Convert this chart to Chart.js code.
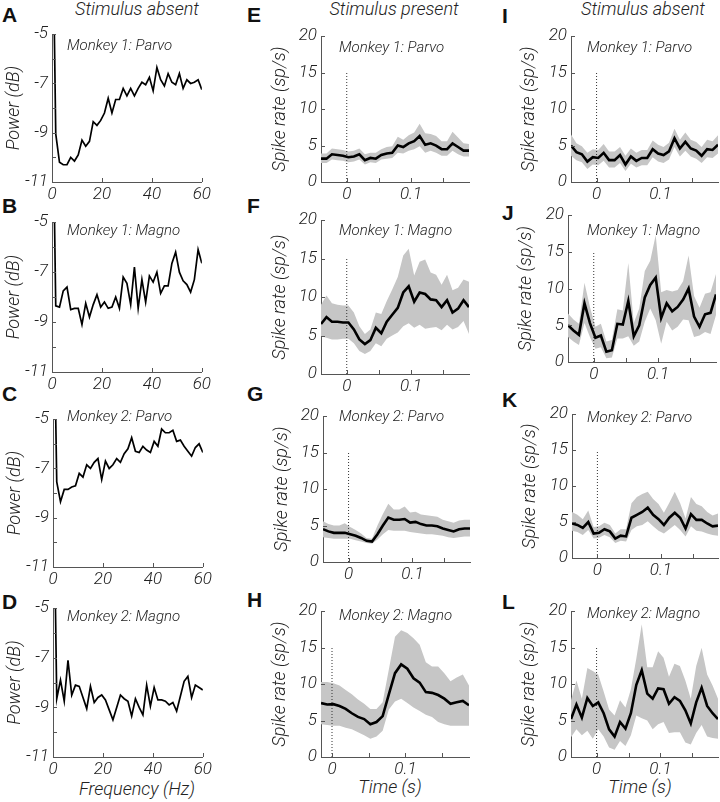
<!DOCTYPE html>
<html>
<head>
<meta charset="utf-8">
<script src="https://cdn.jsdelivr.net/npm/chart.js@4.4.1/dist/chart.umd.min.js"></script>
<style>
  body { margin: 0; background: #fff; }
  #fig { position: relative; width: 720px; height: 802px; overflow: hidden;
         font-family: Roboto, 'Liberation Sans', sans-serif; color: #222; }
  #fig canvas { position: absolute; }
  .letter { position: absolute; font-family: 'Liberation Sans', Arial, sans-serif; font-weight: bold;
            font-size: 21px; line-height: 1; color: #111; }
  .colTitle { position: absolute; top: 0; font-style: italic; font-weight: 300; font-size: 18px;
              line-height: 18px; transform: translateX(-50%); white-space: nowrap; }
  .sub { position: absolute; font-style: italic; font-weight: 300; font-size: 15px; line-height: 18px;
         white-space: nowrap; z-index: 2; }
  .xTitle { position: absolute; font-style: italic; font-weight: 300; font-size: 18px; line-height: 20px;
            transform: translateX(-50%); white-space: nowrap; }
</style>
</head>
<body>
<div id="fig">
  <div class="colTitle" style="left:137px">Stimulus absent</div>
  <div class="colTitle" style="left:394px">Stimulus present</div>
  <div class="colTitle" style="left:643px">Stimulus absent</div>

  <div class="letter" style="left:2px;top:4px">A</div>
  <div class="letter" style="left:2px;top:195px">B</div>
  <div class="letter" style="left:2px;top:383px">C</div>
  <div class="letter" style="left:2px;top:591px">D</div>
  <div class="letter" style="left:247px;top:4px">E</div>
  <div class="letter" style="left:247px;top:195px">F</div>
  <div class="letter" style="left:247px;top:383px">G</div>
  <div class="letter" style="left:247px;top:589px">H</div>
  <div class="letter" style="left:502px;top:5px">I</div>
  <div class="letter" style="left:502px;top:202px">J</div>
  <div class="letter" style="left:502px;top:389px">K</div>
  <div class="letter" style="left:502px;top:591px">L</div>

  <div class="sub" style="left:67px;top:36px">Monkey 1: Parvo</div>
  <div class="sub" style="left:67px;top:221px">Monkey 1: Magno</div>
  <div class="sub" style="left:67px;top:407px">Monkey 2: Parvo</div>
  <div class="sub" style="left:67px;top:607px">Monkey 2: Magno</div>
  <div class="sub" style="left:339px;top:38px">Monkey 1: Parvo</div>
  <div class="sub" style="left:339px;top:221px">Monkey 1: Magno</div>
  <div class="sub" style="left:339px;top:407px">Monkey 2: Parvo</div>
  <div class="sub" style="left:339px;top:606px">Monkey 2: Magno</div>
  <div class="sub" style="left:587px;top:38px">Monkey 1: Parvo</div>
  <div class="sub" style="left:587px;top:221px">Monkey 1: Magno</div>
  <div class="sub" style="left:587px;top:408px">Monkey 2: Parvo</div>
  <div class="sub" style="left:587px;top:604px">Monkey 2: Magno</div>

  <div class="xTitle" style="left:137px;top:779px">Frequency (Hz)</div>
  <div class="xTitle" style="left:390px;top:777px">Time (s)</div>
  <div class="xTitle" style="left:640px;top:777px">Time (s)</div>
</div>

<script>
// spectra, stimulus absent (dB)
const freqs = [0,1.5,3,4.5,6,7.5,9,10.5,12,13.5,15,16.5,18,19.5,21,22.5,24,25.5,27,28.5,30,
  31.5,33,34.5,36,37.5,39,40.5,42,43.5,45,46.5,48,49.5,51,52.5,54,55.5,57,58.5,60];
const powerM1Parvo = [2,-9.05,-10.2,-10.3,-10.3,-10.0,-10.15,-9.9,-9.3,-9.55,-9.35,-8.55,-8.7,-8.5,-8.2,
  -7.6,-8.2,-7.65,-7.65,-7.2,-7.5,-7.2,-7.5,-7.2,-6.95,-7.05,-6.75,-7.3,-6.35,-6.85,-7.1,-6.6,-6.95,-7.05,
  -6.6,-7.2,-6.85,-7.0,-6.95,-6.85,-7.25];
const powerM1Magno = [2,-8.35,-8.4,-7.75,-7.6,-8.5,-8.45,-8.45,-9.1,-8.25,-8.8,-8.3,-7.9,-8.4,-8.2,-8.45,
  -8.4,-8.0,-8.45,-7.2,-7.45,-8.3,-6.8,-8.45,-7.3,-8.2,-7.15,-7.4,-7.0,-7.85,-7.55,-7.55,-6.65,-6.2,-7.0,
  -7.35,-7.5,-7.8,-7.3,-6.1,-6.65];
const powerM2Parvo = [2,-7.55,-8.35,-7.85,-7.85,-7.75,-7.7,-7.2,-7.35,-6.85,-7.0,-6.75,-6.6,-7.45,-6.7,
  -7.0,-6.85,-6.6,-6.75,-6.4,-6.2,-5.75,-6.3,-6.35,-6.1,-6.25,-6.35,-5.9,-6.1,-5.4,-5.55,-5.55,-5.45,-5.9,
  -5.85,-6.1,-6.3,-6.5,-6.15,-6.0,-6.35];
const powerM2Magno = [2,-8.65,-7.9,-8.75,-7.1,-8.5,-8.1,-8.15,-8.6,-9.05,-8.15,-8.8,-8.6,-8.5,-8.7,-9.1,
  -9.5,-9.0,-8.5,-8.65,-8.75,-9.35,-8.65,-9.0,-9.3,-8.1,-8.95,-8.2,-8.7,-8.7,-8.75,-8.9,-8.8,-9.15,-8.55,
  -7.95,-7.75,-8.6,-8.1,-8.2,-8.3];

// spike rates (sp/s): mean, upper and lower edge of the shaded band
const times = [-0.040,-0.0315,-0.023,-0.0144,-0.0059,0.0026,0.0111,0.0196,0.0282,0.0367,0.0452,0.0537,
  0.0622,0.0707,0.0793,0.0878,0.0963,0.1048,0.1133,0.1219,0.1304,0.1389,0.1474,0.1559,0.1644,0.1730,0.1815,0.190];
const timesH = [-0.015,-0.0066,0.0018,0.0102,0.0186,0.027,0.0354,0.0438,0.0522,0.0606,0.069,0.0774,
  0.0858,0.0942,0.1026,0.111,0.1194,0.1278,0.1362,0.1446,0.153,0.1614,0.1698,0.1782,0.1866];

const presM1ParvoMean = [3.2,3.2,3.8,3.7,3.6,3.4,3.5,3.8,3.0,3.3,3.2,3.7,3.9,4.0,5.0,4.8,5.3,5.6,6.3,5.1,5.3,5.0,4.5,4.5,5.3,4.8,4.3,4.3];
const presM1ParvoHi   = [3.9,3.9,4.6,4.5,4.4,4.2,4.3,4.6,3.8,4.0,4.0,4.5,4.8,4.9,6.2,5.8,6.4,6.8,8.0,6.7,6.6,6.3,5.6,5.6,6.9,6.1,5.3,5.2];
const presM1ParvoLo   = [2.6,2.6,3.1,3.0,2.9,2.7,2.8,3.1,2.4,2.7,2.6,3.1,3.2,3.3,4.0,3.9,4.3,4.5,4.9,4.0,4.3,4.0,3.6,3.6,4.3,3.8,3.5,3.5];

const presM1MagnoMean = [6.5,7.4,6.8,6.8,6.7,6.7,5.8,4.5,3.9,4.4,6.0,5.3,6.8,7.7,8.6,10.6,11.4,9.4,10.6,10.4,9.7,9.6,8.7,9.6,8.0,8.5,9.6,8.7];
const presM1MagnoHi   = [9.0,10.2,9.2,9.0,8.9,8.9,8.0,6.2,5.2,5.8,8.0,7.8,9.5,11.0,12.6,15.4,16.3,12.8,14.6,14.9,13.2,12.9,11.6,12.9,10.9,11.2,12.3,12.0];
const presM1MagnoLo   = [4.9,4.7,4.5,4.5,4.6,4.6,4.0,3.0,2.6,3.0,4.0,3.6,4.6,5.0,5.4,6.2,6.6,6.0,6.4,5.9,6.0,6.1,5.7,6.4,5.8,6.1,6.9,5.2];

const presM2ParvoMean = [4.5,4.2,4.0,4.0,4.0,3.8,3.6,3.3,2.9,2.8,3.8,5.0,6.1,5.8,5.8,5.9,5.4,5.5,5.2,5.0,5.0,4.9,4.6,4.4,4.2,4.5,4.6,4.6];
const presM2ParvoHi   = [5.6,5.2,5.0,5.0,5.3,4.8,4.4,3.9,3.3,3.2,5.0,6.6,8.0,7.2,7.2,7.6,6.8,6.9,6.5,6.4,6.3,6.2,5.8,5.6,5.4,5.7,5.8,5.8];
const presM2ParvoLo   = [3.4,3.3,3.2,3.2,3.2,3.2,3.0,2.8,2.6,2.5,3.1,3.8,4.4,4.3,4.3,4.3,4.1,4.0,3.9,3.8,3.8,3.7,3.6,3.4,3.3,3.4,3.5,3.5];

const presM2MagnoMean = [7.4,7.2,7.25,7.0,6.6,6.0,5.5,5.2,4.5,4.8,5.6,8.6,11.5,12.7,12.1,10.8,10.2,8.9,8.8,8.5,8.0,7.3,7.5,7.7,7.1];
const presM2MagnoHi   = [10.3,10.3,10.1,9.8,9.2,8.6,7.9,7.3,6.6,6.6,7.5,12.0,16.5,17.4,17.0,16.3,15.4,13.0,12.4,12.4,11.5,10.4,10.9,11.3,9.8];
const presM2MagnoLo   = [4.5,4.4,4.3,4.3,4.0,3.8,3.4,3.0,2.5,2.8,3.6,6.5,7.6,8.0,7.4,6.8,6.3,5.8,5.5,4.8,4.5,4.3,4.3,4.3,4.3];

const absM1ParvoMean = [5.0,4.1,3.8,2.8,3.4,3.3,4.0,3.0,3.0,3.7,2.4,3.5,2.9,3.3,3.3,4.5,3.9,3.7,4.2,6.0,4.6,5.5,4.6,4.3,3.6,4.5,4.4,5.1];
const absM1ParvoHi   = [6.5,5.3,4.9,4.0,4.5,4.4,5.2,4.2,4.2,4.8,3.6,4.6,4.0,4.4,4.4,5.7,5.1,4.8,5.4,7.3,5.8,6.8,5.8,5.5,4.8,5.8,5.6,6.4];
const absM1ParvoLo   = [3.6,3.0,2.7,1.8,2.4,2.3,2.9,2.0,2.0,2.6,1.5,2.5,2.0,2.3,2.3,3.4,2.8,2.6,3.1,4.8,3.5,4.3,3.5,3.2,2.6,3.4,3.3,3.9];

const absM1MagnoMean = [5.0,4.3,3.7,8.0,5.3,3.3,3.6,1.4,1.6,5.2,5.1,8.3,3.5,5.0,8.8,10.5,11.5,6.0,8.0,6.9,7.5,8.5,10.0,6.2,4.8,6.5,6.7,9.2];
const absM1MagnoHi   = [6.6,5.8,5.2,10.8,7.5,4.8,5.2,2.8,3.0,7.2,7.0,13.5,5.3,7.3,12.4,13.8,17.3,9.5,9.8,9.6,9.8,11.0,14.5,9.0,7.4,9.3,9.5,12.0];
const absM1MagnoLo   = [3.4,2.8,2.3,5.3,3.4,1.8,2.0,0.5,0.6,3.2,3.2,3.5,2.2,2.8,5.5,7.3,5.7,2.5,5.5,4.3,4.8,5.8,5.7,3.4,3.6,4.1,3.8,6.4];

const absM2ParvoMean = [4.8,4.6,4.2,5.0,3.4,3.5,4.0,3.7,2.7,3.1,3.0,5.6,6.0,6.4,7.0,6.0,5.4,4.6,5.6,6.3,5.6,4.1,6.1,5.3,5.3,4.8,4.4,4.5];
const absM2ParvoHi   = [6.4,6.0,5.4,6.6,4.3,4.4,4.9,4.6,3.4,4.0,4.0,7.6,8.5,8.9,9.2,8.2,7.5,6.3,7.7,9.2,7.6,5.5,8.5,7.5,7.2,6.4,5.9,6.2];
const absM2ParvoLo   = [3.8,3.6,3.2,3.9,2.7,2.8,3.2,2.9,2.1,2.4,2.3,3.9,4.4,4.6,5.1,4.4,3.8,3.4,4.0,4.6,3.9,3.0,4.4,3.8,3.7,3.4,3.2,3.1];

const absM2MagnoMean = [5.2,7.2,5.4,8.1,7.0,7.5,6.0,3.8,2.8,4.8,3.9,6.0,9.9,11.9,8.7,8.0,9.4,9.3,7.3,8.2,7.7,6.4,4.6,7.5,9.5,7.0,6.0,5.2];
const absM2MagnoHi   = [7.8,10.5,8.0,12.2,11.8,11.3,9.0,6.5,5.7,7.8,6.8,9.3,13.5,18.2,12.3,12.3,14.5,13.6,11.0,12.8,12.5,10.5,8.0,12.5,15.0,11.3,9.8,8.0];
const absM2MagnoLo   = [2.7,3.8,3.0,3.6,2.5,3.8,2.8,1.3,1.0,2.2,1.5,3.0,5.7,5.3,5.0,3.8,4.5,4.8,3.3,3.4,3.4,2.0,1.7,3.3,4.4,2.8,2.6,2.5];

// stimulus onset marker
const onsetX = [0, 0];
const onsetY = [0, 15];

// tick labels and tick marks
const freqLabels = [0, 20, 40, 60];
const freqMarks = [0, 20, 40, 60];
const powerLabels = [-5, -7, -9, -11];
const powerMarks = [-5, -6, -7, -8, -9, -10, -11];
const timeLabels = [0, 0.1];
const timeMarks = [0, 0.05, 0.1, 0.15];
const rateLabels = [0, 5, 10, 15, 20];
const rateMarks = [0, 5, 10, 15, 20];

const fig = document.getElementById('fig');
const FAMILY = "Roboto, 'Liberation Sans', sans-serif";
const tickFont = { family: FAMILY, size: 17, style: 'italic', weight: 300 };
const titleFont = { family: FAMILY, size: 18, style: 'italic', weight: 300 };
const AXIS = '#555';

const cols = [{ wy: 50, pt: 2 }, { wy: 51, pt: 0 }, { wy: 52, pt: 0 }];

const panels = [
  { c: 0, area: [52, 32, 202, 182], y: powerM1Parvo },
  { c: 0, area: [52, 220, 202, 372], y: powerM1Magno },
  { c: 0, area: [53, 417, 203, 567], y: powerM2Parvo },
  { c: 0, area: [53, 606, 203, 757], y: powerM2Magno },
  { c: 1, area: [321, 34, 469, 182], t: times, m: presM1ParvoMean, hi: presM1ParvoHi, lo: presM1ParvoLo, xr: [-0.04, 0.19] },
  { c: 1, area: [321, 218, 469, 374], t: times, m: presM1MagnoMean, hi: presM1MagnoHi, lo: presM1MagnoLo, xr: [-0.04, 0.19] },
  { c: 1, area: [323, 414, 470, 562], t: times, m: presM2ParvoMean, hi: presM2ParvoHi, lo: presM2ParvoLo, xr: [-0.04, 0.19] },
  { c: 1, area: [321, 609, 469, 757], t: timesH, m: presM2MagnoMean, hi: presM2MagnoHi, lo: presM2MagnoLo, xr: [-0.015, 0.1866] },
  { c: 2, area: [571, 34, 718, 182], t: times, m: absM1ParvoMean, hi: absM1ParvoHi, lo: absM1ParvoLo, xr: [-0.04, 0.19] },
  { c: 2, area: [568, 213, 716, 362], t: times, m: absM1MagnoMean, hi: absM1MagnoHi, lo: absM1MagnoLo, xr: [-0.04, 0.19] },
  { c: 2, area: [572, 412, 718, 558], t: times, m: absM2ParvoMean, hi: absM2ParvoHi, lo: absM2ParvoLo, xr: [-0.04, 0.19] },
  { c: 2, area: [571, 609, 718, 757], t: times, m: absM2MagnoMean, hi: absM2MagnoHi, lo: absM2MagnoLo, xr: [-0.04, 0.19] }
];

// matlab style tick marks pointing into the plot
const inwardTicks = {
  id: 'inwardTicks',
  afterDatasetsDraw(chart, args, opts) {
    const { ctx, chartArea: a, scales } = chart;
    ctx.save();
    ctx.strokeStyle = AXIS;
    ctx.lineWidth = 1;
    ctx.beginPath();
    opts.xs.forEach(v => {
      const px = Math.round(scales.x.getPixelForValue(v)) + 0.5;
      ctx.moveTo(px, a.bottom);
      ctx.lineTo(px, a.bottom - 4);
    });
    opts.ys.forEach(v => {
      const py = Math.round(scales.y.getPixelForValue(v)) + 0.5;
      ctx.moveTo(a.left, py);
      ctx.lineTo(a.left + 4, py);
    });
    ctx.stroke();
    ctx.restore();
  }
};

const xy = (xs, ys) => xs.map((x, i) => ({ x, y: ys[i] }));

function addPanel(p) {
  const { wy, pt } = cols[p.c];
  const padTop = 12, padRight = 12, hx = 30;
  const [l, t, r, b] = p.area;
  const cv = document.createElement('canvas');
  cv.width = r - l + wy + padRight;
  cv.height = b - t + padTop + hx;
  cv.style.left = (l - wy) + 'px';
  cv.style.top = (t - padTop) + 'px';
  fig.appendChild(cv);

  const isPower = !p.t;
  let datasets;
  if (isPower) {
    datasets = [{ data: xy(freqs, p.y), borderColor: '#000', borderWidth: 1.7, pointRadius: 0, fill: false }];
  } else {
    datasets = [
      { data: xy(p.t, p.m), borderColor: '#000', borderWidth: 2.6, pointRadius: 0, fill: false, order: 0 },
      { data: xy(onsetX, onsetY), borderColor: '#333', borderWidth: 1, borderDash: [1, 2],
        pointRadius: 0, fill: false, order: 1 },
      { data: xy(p.t, p.hi), borderColor: 'rgba(0,0,0,0)', borderWidth: 0, pointRadius: 0,
        backgroundColor: '#c6c6c6', fill: '+1', order: 2 },
      { data: xy(p.t, p.lo), borderColor: 'rgba(0,0,0,0)', borderWidth: 0, pointRadius: 0, fill: false, order: 3 }
    ];
  }

  const xLabels = isPower ? freqLabels : timeLabels;
  const yLabels = isPower ? powerLabels : rateLabels;

  new Chart(cv, {
    type: 'line',
    data: { datasets },
    plugins: [inwardTicks],
    options: {
      responsive: false,
      animation: false,
      events: [],
      devicePixelRatio: 1,
      layout: { padding: { top: padTop, right: padRight, left: 0, bottom: 0 } },
      plugins: {
        legend: { display: false },
        tooltip: { enabled: false },
        inwardTicks: { xs: isPower ? freqMarks : timeMarks, ys: isPower ? powerMarks : rateMarks }
      },
      scales: {
        x: {
          type: 'linear',
          min: isPower ? 0 : p.xr[0],
          max: isPower ? 60 : p.xr[1],
          grid: { display: false, drawTicks: false },
          border: { display: true, color: AXIS, width: 1 },
          afterBuildTicks: s => { s.ticks = xLabels.map(v => ({ value: v })); },
          afterFit: s => { s.height = hx; },
          ticks: { font: tickFont, color: '#222', padding: 3, maxRotation: 0, autoSkip: false,
                   callback: v => String(v) }
        },
        y: {
          type: 'linear',
          min: isPower ? -11 : 0,
          max: isPower ? -5 : 20,
          grid: { display: false, drawTicks: false },
          border: { display: true, color: AXIS, width: 1 },
          afterBuildTicks: s => { s.ticks = yLabels.map(v => ({ value: v })); },
          afterFit: s => { s.width = wy; },
          ticks: { font: tickFont, color: '#222', padding: 4, autoSkip: false, callback: v => String(v) },
          title: { display: true, text: isPower ? 'Power (dB)' : 'Spike rate (sp/s)', font: titleFont,
                   color: '#222', padding: { top: pt, bottom: 0 } }
        }
      }
    }
  });
}

panels.forEach(addPanel);
</script>
</body>
</html>
